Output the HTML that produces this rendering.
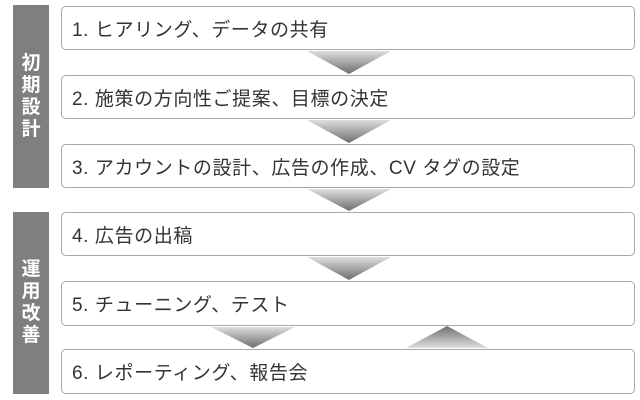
<!DOCTYPE html>
<html><head><meta charset="utf-8"><style>
body{margin:0;width:640px;height:400px;background:#fff;position:relative;overflow:hidden;font-family:"Liberation Sans","Noto Sans CJK JP",sans-serif}
.side{position:absolute;left:13px;width:36px;background:#7f7f7f;color:#fff;font-size:19px;line-height:22px;font-weight:bold;text-align:center;display:flex;flex-direction:column;justify-content:center;align-items:center}
.box{position:absolute;left:61px;width:574px;border:1px solid #a8a8a8;border-radius:5px;box-sizing:border-box;font-size:19px;color:#333;padding-left:10px;display:flex;align-items:center;letter-spacing:0.6px}
svg{position:absolute;left:0;top:0}
</style></head><body>
<div class="side" style="top:5px;height:183px">初<br>期<br>設<br>計</div>
<div class="side" style="top:212px;height:182px">運<br>用<br>改<br>善</div>
<div class="box" style="top:6px;height:44px">1. ヒアリング、データの共有</div>
<div class="box" style="top:75px;height:44px">2. 施策の方向性ご提案、目標の決定</div>
<div class="box" style="top:144px;height:44px">3. アカウントの設計、広告の作成、CV タグの設定</div>
<div class="box" style="top:212px;height:44px">4. 広告の出稿</div>
<div class="box" style="top:281px;height:45px">5. チューニング、テスト</div>
<div class="box" style="top:349px;height:45px">6. レポーティング、報告会</div>
<svg width="640" height="400">
<defs>
<linearGradient id="d" x1="0" y1="0" x2="0" y2="1"><stop offset="0" stop-color="#dedede"/><stop offset="1" stop-color="#6e6e6e"/></linearGradient>
<linearGradient id="u" x1="0" y1="1" x2="0" y2="0"><stop offset="0" stop-color="#dedede"/><stop offset="1" stop-color="#6e6e6e"/></linearGradient>
</defs>
<polygon points="307,51 391,51 349,74" fill="url(#d)"/>
<polygon points="307,120 391,120 349,143" fill="url(#d)"/>
<polygon points="307,189 391,189 349,211" fill="url(#d)"/>
<polygon points="307,257 391,257 349,280" fill="url(#d)"/>
<polygon points="211,327 295,327 253,348" fill="url(#d)"/>
<polygon points="406,348 488,348 447,326" fill="url(#u)"/>
</svg>
</body></html>
